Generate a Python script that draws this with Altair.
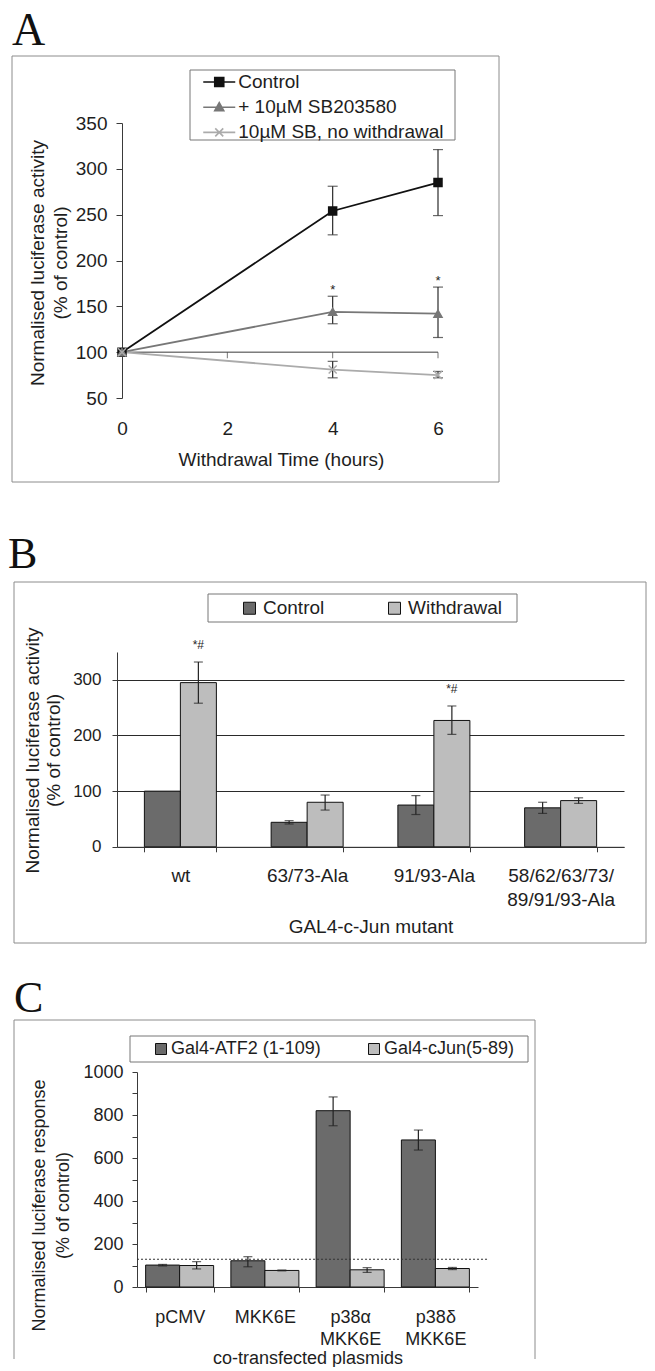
import altair as alt
import pandas as pd

FONT = "Liberation Sans"
SERIF = "Liberation Serif"
INK = "#1e1e1e"
AXC = "#3a3a3a"
FRAME = "#8c8c8c"
DARK = "#6b6b6b"
LIGHT = "#bdbdbd"

panel_letters = ["A", "B", "C"]

# ---------------- Panel A data ----------------
a_series = ["Control", "+ 10µM SB203580", "10µM SB, no withdrawal"]
a_time = [0, 4, 6]
a_control = [100, 254, 285]
a_control_lo = [None, 228, 249]
a_control_hi = [None, 281, 321]
a_sb = [100, 144, 142]
a_sb_lo = [None, 131, 116]
a_sb_hi = [None, 161, 171]
a_nw = [100, 81, 75]
a_nw_lo = [None, 72, 72]
a_nw_hi = [None, 90, 79]
a_sig = ["", "*", "*"]
a_xticks = [0, 2, 4, 6]
a_yticks = [50, 100, 150, 200, 250, 300, 350]
a_base = [100]
a_base_ticks = [2, 4, 6]
a_y_title = ["Normalised luciferase activity", "(% of control)"]
a_x_title = "Withdrawal Time (hours)"

# ---------------- Panel B data ----------------
b_cats = ["wt", "63/73-Ala", "91/93-Ala", "58/62/63/73/89/91/93-Ala"]
b_series = ["Control", "Withdrawal"]
b_control = [100, 44, 75, 70]
b_control_lo = [None, 41, 58, 60]
b_control_hi = [None, 47, 92, 80]
b_withdrawal = [295, 80, 227, 83]
b_withdrawal_lo = [258, 66, 202, 78]
b_withdrawal_hi = [332, 93, 253, 88]
b_sig = ["*#", "", "*#", ""]
b_yticks = [0, 100, 200, 300]
b_y_title = ["Normalised luciferase activity", "(% of control)"]
b_x_title = "GAL4-c-Jun mutant"

# ---------------- Panel C data ----------------
c_cats = ["pCMV", "MKK6E", "p38α MKK6E", "p38δ MKK6E"]
c_series = ["Gal4-ATF2 (1-109)", "Gal4-cJun(5-89)"]
c_atf2 = [102, 122, 820, 684]
c_atf2_lo = [98, 94, 750, 637]
c_atf2_hi = [105, 141, 884, 730]
c_cjun = [100, 77, 80, 86]
c_cjun_lo = [84, 75, 68, 81]
c_cjun_hi = [118, 79, 90, 91]
c_ref = [129]
c_yticks = [0, 100, 200, 300, 400, 500, 600, 700, 800, 900, 1000]
c_y_title = ["Normalised luciferase response", "(% of control)"]
c_x_title = "co-transfected plasmids"


def deco_rect(x1, x2, y1, y2, **kw):
    return alt.Chart(pd.DataFrame({"k": [0]})).mark_rect(**kw).encode(
        x=alt.value(x1), x2=alt.value(x2), y=alt.value(y1), y2=alt.value(y2))


def deco_rule(x1, x2, y1, y2, **kw):
    return alt.Chart(pd.DataFrame({"k": [0]})).mark_rule(**kw).encode(
        x=alt.value(x1), x2=alt.value(x2), y=alt.value(y1), y2=alt.value(y2))


def letter(t, x, y, size):
    return alt.Chart(pd.DataFrame({"t": [t]})).mark_text(
        font=SERIF, fontSize=size, align="left", baseline="alphabetic", color="#111111"
    ).encode(text="t:N", x=alt.value(x), y=alt.value(y))


def grouped(df, sfield, series, bar_w, X, Y, channel, fill_scale, legend, sig=False):
    """Grouped bars: one layer per series, shifted half a bar left/right of the band centre."""
    offsets = [-bar_w / 2, bar_w / 2]
    bars, errs = [], []
    for s, dx in zip(series, offsets):
        d = df[df[sfield] == s]
        de = d.dropna(subset=["lo", "hi"])
        bars.append(alt.Chart(d).mark_bar(width=bar_w, xOffset=dx, stroke="#111111", strokeWidth=1)
                    .encode(x=X(), y=Y("val"),
                            **{channel.__name__.lower(): channel(sfield + ":N", scale=fill_scale,
                                                                 legend=legend)}))
        errs.append(alt.Chart(de).mark_rule(xOffset=dx, color="#222222", strokeWidth=1.2)
                    .encode(x=X(), y=Y("lo"), y2="hi"))
        errs.append(alt.Chart(de).mark_tick(orient="horizontal", xOffset=dx, size=9, thickness=1.2,
                                            color="#222222").encode(x=X(), y=Y("lo")))
        errs.append(alt.Chart(de).mark_tick(orient="horizontal", xOffset=dx, size=9, thickness=1.2,
                                            color="#222222").encode(x=X(), y=Y("hi")))
        if sig:
            ds = d[d["sig"] != ""]
            if len(ds):
                errs.append(alt.Chart(ds).mark_text(xOffset=dx, fontSize=12, baseline="alphabetic",
                                                    dy=-13, color=INK)
                            .encode(x=X(), y=Y("hi"), text="sig:N"))
    return bars + errs


# =============== Panel A ===============
rows = []
for s, m, lo, hi in zip(a_series, [a_control, a_sb, a_nw],
                        [a_control_lo, a_sb_lo, a_nw_lo],
                        [a_control_hi, a_sb_hi, a_nw_hi]):
    for t, mv, l, h in zip(a_time, m, lo, hi):
        rows.append({"series": s, "time": t, "mean": mv, "lo": l, "hi": h})
dfA = pd.DataFrame(rows)
dfA_err = dfA.dropna(subset=["lo", "hi"])
dfA_sig = pd.DataFrame({"time": a_time, "hi": a_sb_hi, "sig": a_sig})
dfA_sig = dfA_sig[dfA_sig["sig"] != ""]
dfA_base = pd.DataFrame({"v": a_base, "t0": [a_time[0]], "t1": [a_time[-1]]})
dfA_bt = pd.DataFrame({"t": a_base_ticks, "v": [a_base[0]] * len(a_base_ticks)})

a_colors = ["#111111", "#777777", "#ababab"]
scA_x = alt.Scale(domain=[0, 6], range=[5, 321], nice=False, zero=False)
scA_y = alt.Scale(domain=[50, 350], nice=False, zero=False)
axA_x = alt.Axis(values=a_xticks, domain=False, ticks=False, tickSize=0, labelPadding=21,
                 labelFontSize=19, labelFlush=False, grid=False, title=a_x_title,
                 titleFontSize=19, titleX=164, titleY=61, titleBaseline="middle",
                 titleAlign="center")
axA_y = alt.Axis(values=a_yticks, offset=-5, tickSize=6, labelPadding=9, labelFontSize=19,
                 labelFlush=False, grid=False, title=a_y_title, titleFontSize=19,
                 titleLineHeight=23, titleX=-85, titleY=139.5, titleBaseline="middle",
                 titleAlign="center")


def AX(f):
    return alt.X(f, type="quantitative", scale=scA_x, axis=axA_x)


def AY(f):
    return alt.Y(f, type="quantitative", scale=scA_y, axis=axA_y)


a_mark_shapes = ["square", "triangle-up", "M-1,-1L1,1M-1,1L1,-1"]
leg_line = "M-1.6,0H1.6"
a_leg_shapes = [
    leg_line + "M-0.45,-0.45H0.45V0.45H-0.45Z",
    leg_line + "M0,-0.45L0.45,0.35H-0.45Z",
    leg_line + "M-0.4,-0.4L0.4,0.4M-0.4,0.4L0.4,-0.4",
]

legA = alt.Legend(orient="none", legendX=91.25, legendY=-52, title=None,
                  direction="vertical", padding=0, rowPadding=4.2, labelOffset=8,
                  labelFontSize=19, labelLimit=400, symbolSize=400,
                  symbolStrokeWidth=1.6, symbolOpacity=1)

a_bounds = deco_rect(-109, 530, -115, 392, fill="white", opacity=0)
a_frame = deco_rect(-105, 382, -67, 359, fill="white", fillOpacity=0, stroke=FRAME, strokeWidth=1)
a_legbox = deco_rect(73, 338, -53, 17, fill="white", stroke="#777777", strokeWidth=1)
a_baseline = alt.Chart(dfA_base).mark_rule(color=AXC, strokeWidth=1).encode(
    x=AX("t0"), x2="t1", y=AY("v"))
a_baseticks = alt.Chart(dfA_bt).mark_tick(orient="vertical", size=6, thickness=1,
                                          color=AXC, yOffset=3).encode(x=AX("t"), y=AY("v"))
a_lines = alt.Chart(dfA).mark_line(strokeWidth=1.8).encode(
    x=AX("time"), y=AY("mean"),
    stroke=alt.Stroke("series:N", scale=alt.Scale(domain=a_series, range=a_colors), legend=None))
a_err = alt.Chart(dfA_err).mark_rule(color="#2a2a2a", strokeWidth=1.2).encode(
    x=AX("time"), y=AY("lo"), y2="hi")
a_cap_lo = alt.Chart(dfA_err).mark_tick(orient="horizontal", size=10, thickness=1.2,
                                        color="#2a2a2a").encode(x=AX("time"), y=AY("lo"))
a_cap_hi = alt.Chart(dfA_err).mark_tick(orient="horizontal", size=10, thickness=1.2,
                                        color="#2a2a2a").encode(x=AX("time"), y=AY("hi"))
a_points = alt.Chart(dfA).mark_point(filled=True, size=64, strokeWidth=1.5, opacity=1).encode(
    x=AX("time"), y=AY("mean"),
    shape=alt.Shape("series:N", scale=alt.Scale(domain=a_series, range=a_mark_shapes), legend=None),
    fill=alt.Fill("series:N", scale=alt.Scale(domain=a_series, range=a_colors), legend=None),
    stroke=alt.Stroke("series:N", scale=alt.Scale(domain=a_series, range=a_colors), legend=None))
a_sigtext = alt.Chart(dfA_sig).mark_text(fontSize=13, baseline="alphabetic", dy=-2, color=INK).encode(
    x=AX("time"), y=AY("hi"), text="sig:N")
a_legend = alt.Chart(pd.DataFrame({"series": a_series})).mark_point(
    filled=True, opacity=0, size=400, strokeWidth=1.6).encode(
    shape=alt.Shape("series:N", scale=alt.Scale(domain=a_series, range=a_leg_shapes), legend=legA),
    fill=alt.Fill("series:N", scale=alt.Scale(domain=a_series, range=a_colors), legend=legA),
    stroke=alt.Stroke("series:N", scale=alt.Scale(domain=a_series, range=a_colors), legend=legA))

chartA = alt.layer(
    a_bounds, a_frame, a_legbox, a_baseline, a_baseticks, a_lines, a_err, a_cap_lo, a_cap_hi,
    a_points, a_sigtext, a_legend, letter(panel_letters[0], -105, -78, 46)
).resolve_scale(shape="independent", fill="independent", stroke="independent").properties(
    width=321, height=275)

# =============== Panel B ===============
rows = []
for s, m, lo, hi, sg in zip(b_series, [b_control, b_withdrawal], [b_control_lo, b_withdrawal_lo],
                            [b_control_hi, b_withdrawal_hi], [["", "", "", ""], b_sig]):
    for c, mv, l, h, g in zip(b_cats, m, lo, hi, sg):
        rows.append({"mutant": c, "treatment": s, "val": mv, "lo": l, "hi": h, "sig": g})
dfB = pd.DataFrame(rows)

scB_x = alt.Scale(domain=b_cats, paddingInner=0.432, paddingOuter=0.216)
scB_y = alt.Scale(domain=[0, 350], nice=False, zero=True)
axB_x = alt.Axis(labelAngle=0, tickBand="extent", tickSize=5, labelPadding=15, labelFontSize=19,
                 labelLineHeight=24, labelLimit=300,
                 labelExpr="length(datum.label) > 12 ? [substring(datum.label, 0, 12), substring(datum.label, 12)] : datum.label",
                 title=b_x_title, titleFontSize=19, titleX=253.5, titleY=80,
                 titleBaseline="middle", titleAlign="center", grid=False)
axB_y = alt.Axis(values=b_yticks, grid=True, gridColor="#2a2a2a", gridWidth=1, tickSize=5,
                 labelPadding=11, labelFontSize=17, labelFlush=False, title=b_y_title,
                 titleFontSize=19, titleLineHeight=21, titleX=-85, titleY=98,
                 titleBaseline="middle", titleAlign="center")


def BX():
    return alt.X("mutant:N", scale=scB_x, axis=axB_x)


def BY(f):
    return alt.Y(f, type="quantitative", scale=scB_y, axis=axB_y)


legB = alt.Legend(orient="none", legendX=123, legendY=-53.5, direction="horizontal", title=None,
                  padding=0, symbolType="square", symbolSize=144, symbolStrokeColor="#111111",
                  symbolStrokeWidth=1, labelOffset=4, columnPadding=60, labelFontSize=19)

chartB = alt.layer(
    deco_rect(-109, 530, -137, 308, fill="white", opacity=0),
    deco_rect(-103, 529, -70, 291, fill="white", fillOpacity=0, stroke=FRAME, strokeWidth=1),
    deco_rect(91, 400, -58, -30, fill="white", stroke="#777777", strokeWidth=1),
    *grouped(dfB, "treatment", b_series, 36, BX, BY, alt.Fill,
             alt.Scale(domain=b_series, range=[DARK, LIGHT]), legB, sig=True),
    letter(panel_letters[1], -109, -84, 44)
).properties(width=507, height=194.8)

# =============== Panel C ===============
rows = []
for s, m, lo, hi in zip(c_series, [c_atf2, c_cjun], [c_atf2_lo, c_cjun_lo], [c_atf2_hi, c_cjun_hi]):
    for c, mv, l, h in zip(c_cats, m, lo, hi):
        rows.append({"plasmid": c, "construct": s, "val": mv, "lo": l, "hi": h})
dfC = pd.DataFrame(rows)
dfC_ref = pd.DataFrame({"v": c_ref})

scC_x = alt.Scale(domain=c_cats, range=[20, 361], paddingInner=0.2, paddingOuter=0.1)
scC_y = alt.Scale(domain=[0, 1000], nice=False, zero=True)
axC_x = alt.Axis(labelAngle=0, tickBand="extent", tickSize=5, labelPadding=16, labelFontSize=18,
                 labelLineHeight=22, labelExpr="split(datum.label, ' ')", title=c_x_title,
                 titleFontSize=18, titleX=190.5, titleY=71, titleBaseline="middle",
                 titleAlign="center", grid=False)
axC_y = alt.Axis(values=c_yticks, format="d",
                 labelExpr="datum.value % 200 === 0 ? datum.label : ''",
                 labelOverlap=False, labelFlush=False, offset=-20, tickSize=5, labelPadding=9,
                 labelFontSize=18, grid=False, title=c_y_title, titleFontSize=18,
                 titleLineHeight=24, titleX=-98, titleY=133, titleBaseline="middle",
                 titleAlign="center")


def CX():
    return alt.X("plasmid:N", scale=scC_x, axis=axC_x)


def CY(f):
    return alt.Y(f, type="quantitative", scale=scC_y, axis=axC_y)


legC = alt.Legend(orient="none", legendX=35, legendY=-32, direction="horizontal", title=None,
                  padding=0, symbolType="square", symbolSize=121, symbolStrokeColor="#111111",
                  symbolStrokeWidth=1, labelOffset=1, columnPadding=44, labelFontSize=18,
                  labelLimit=300)

c_refline = alt.Chart(dfC_ref).mark_rule(color="#333333", strokeWidth=1, strokeDash=[2, 2]).encode(
    y=CY("v"), x=alt.value(20), x2=alt.value(371))

chartC = alt.layer(
    deco_rect(-109, 530, -112, 287, fill="white", opacity=0),
    deco_rule(-103, 418, -52, -52, color=FRAME, strokeWidth=1),
    deco_rule(-103, -103, -52, 287, color=FRAME, strokeWidth=1),
    deco_rule(418, 418, -52, 287, color=FRAME, strokeWidth=1),
    deco_rect(13, 411, -36, -10, fill="white", stroke="#777777", strokeWidth=1),
    *grouped(dfC, "construct", c_series, 34, CX, CY, alt.Color,
             alt.Scale(domain=c_series, range=[DARK, LIGHT]), legC),
    c_refline,
    letter(panel_letters[2], -103, -60, 44)
).properties(width=361, height=215)

chart = alt.VConcatChart(
    vconcat=[chartA, chartB, chartC], spacing=0, bounds="full", padding=0, background="white"
).resolve_scale(fill="independent", color="independent").resolve_legend(
    fill="independent", color="independent", shape="independent", stroke="independent"
).configure_view(stroke=None).configure_axis(
    labelFont=FONT, titleFont=FONT, titleFontWeight="normal", labelColor=INK, titleColor=INK,
    domainColor=AXC, tickColor=AXC, domainWidth=1, tickWidth=1
).configure_legend(labelFont=FONT, labelColor=INK).configure_text(font=FONT)

chart.save("out.html", embed_options={"renderer": "svg", "actions": False})
